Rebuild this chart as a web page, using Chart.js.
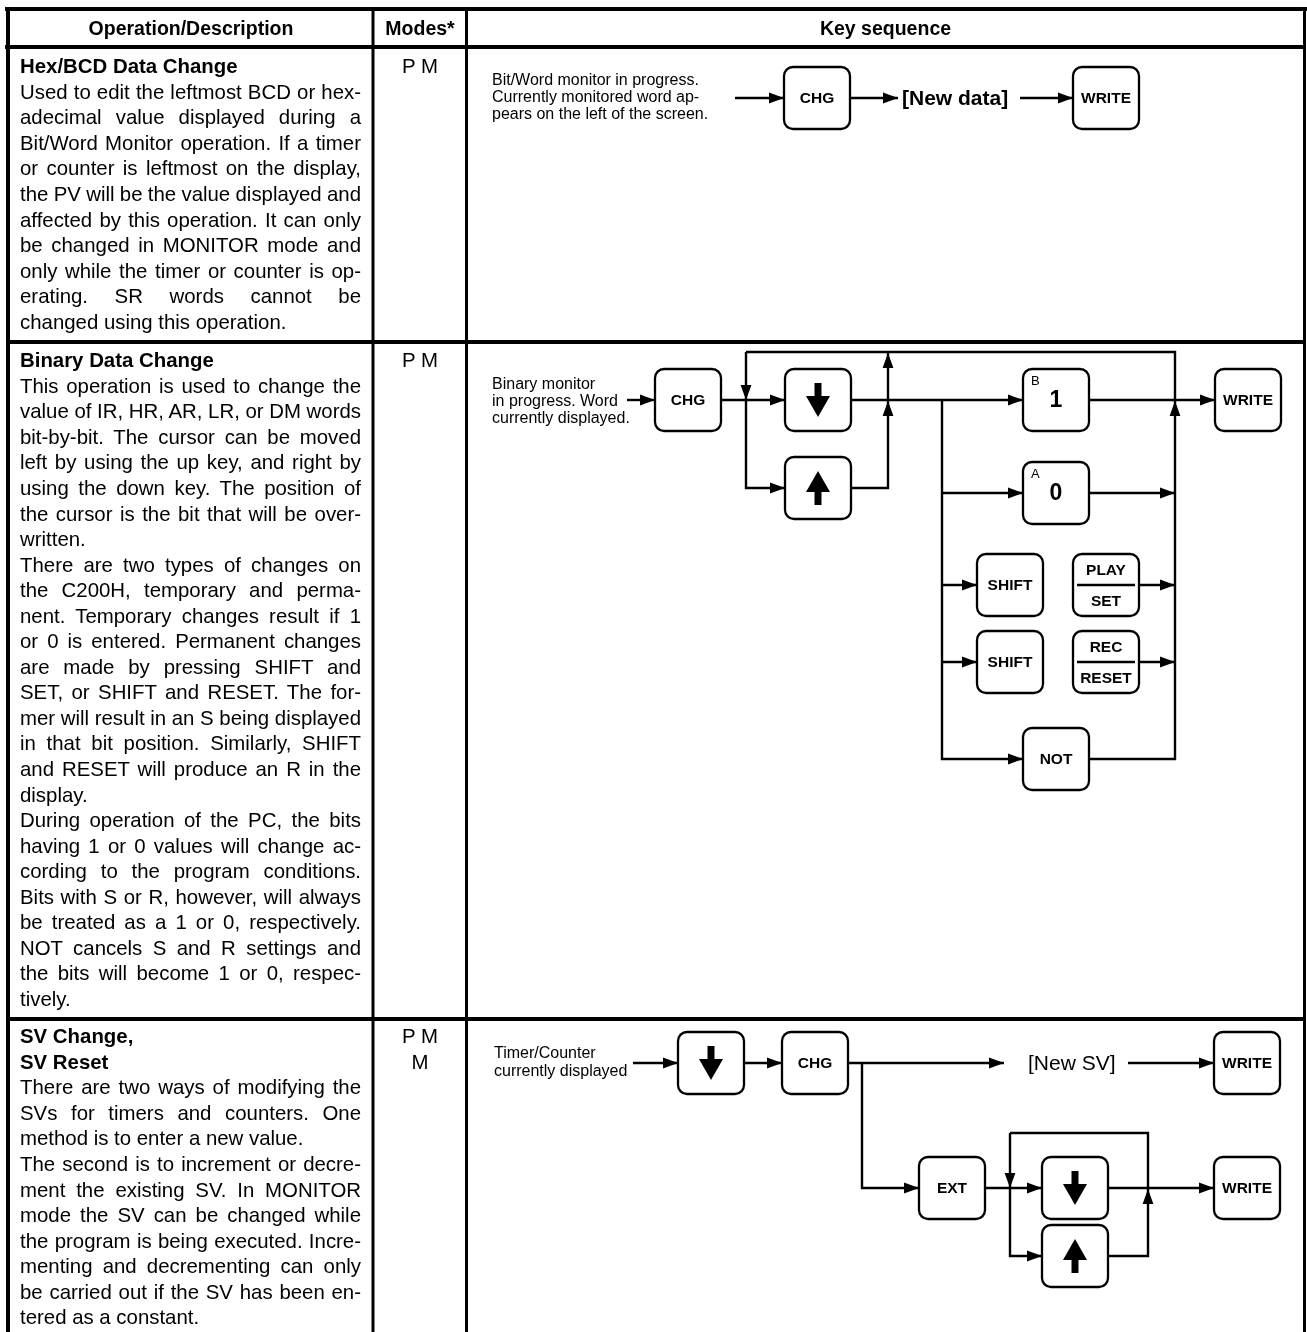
<!DOCTYPE html>
<html>
<head>
<meta charset="utf-8">
<script src="https://cdn.jsdelivr.net/npm/chart.js@4.4.0/dist/chart.umd.min.js"></script>
<style>
  html, body { margin: 0; padding: 0; background: #fff; }
  #page { position: relative; width: 1307px; height: 1332px; overflow: hidden; background: #fff; }
  #c { position: absolute; left: 0; top: 0; }
  .t { position: absolute; font-family: "Liberation Sans", Arial, Helvetica, sans-serif; color: #000; white-space: nowrap; }
  .ln { font-size: 20.4px; height: 25.55px; line-height: 25.55px; }
  .b { font-weight: bold; }
  .hd { font-weight: bold; font-size: 19.5px; text-align: center; height: 26px; line-height: 26px; }
  .md { text-align: center; }
</style>
</head>
<body>
<div id="page"><canvas id="c" width="1307" height="1332"></canvas></div>
<script>
// ---------------- DATA ----------------
const headers = ["Operation/Description", "Modes*", "Key sequence"];
const operations = [["Hex/BCD Data Change"], ["Binary Data Change"], ["SV Change,", "SV Reset"]];
const modes = [["P M"], ["P M"], ["P M", "M"]];
const descriptions = [
  [[
    "Used to edit the leftmost BCD or hex-",
    "adecimal value displayed during a",
    "Bit/Word Monitor operation. If a timer",
    "or counter is leftmost on the display,",
    "the PV will be the value displayed and",
    "affected by this operation. It can only",
    "be changed in MONITOR mode and",
    "only while the timer or counter is op-",
    "erating. SR words cannot be",
    "changed using this operation."
  ]],
  [[
    "This operation is used to change the",
    "value of IR, HR, AR, LR, or DM words",
    "bit-by-bit. The cursor can be moved",
    "left by using the up key, and right by",
    "using the down key. The position of",
    "the cursor is the bit that will be over-",
    "written."
  ], [
    "There are two types of changes on",
    "the C200H, temporary and perma-",
    "nent. Temporary changes result if 1",
    "or 0 is entered. Permanent changes",
    "are made by pressing SHIFT and",
    "SET, or SHIFT and RESET. The for-",
    "mer will result in an S being displayed",
    "in that bit position. Similarly, SHIFT",
    "and RESET will produce an R in the",
    "display."
  ], [
    "During operation of the PC, the bits",
    "having 1 or 0 values will change ac-",
    "cording to the program conditions.",
    "Bits with S or R, however, will always",
    "be treated as a 1 or 0, respectively.",
    "NOT cancels S and R settings and",
    "the bits will become 1 or 0, respec-",
    "tively."
  ]],
  [[
    "There are two ways of modifying the",
    "SVs for timers and counters. One",
    "method is to enter a new value."
  ], [
    "The second is to increment or decre-",
    "ment the existing SV. In MONITOR",
    "mode the SV can be changed while",
    "the program is being executed. Incre-",
    "menting and decrementing can only",
    "be carried out if the SV has been en-",
    "tered as a constant."
  ]]
];
const seqNotes = [
  ["Bit/Word monitor in progress.", "Currently monitored word ap-", "pears on the left of the screen."],
  ["Binary monitor", "in progress. Word", "currently displayed."],
  ["Timer/Counter", "currently displayed"]
];
const seqData = ["[New data]", "[New SV]"];
const keysRow1 = ["CHG", "WRITE"];
const keysRow2 = ["CHG", "DOWN", "UP", "1", "0", "SHIFT", "PLAY/SET", "SHIFT", "REC/RESET", "NOT", "WRITE"];
const keysRow3 = ["DOWN", "CHG", "WRITE", "EXT", "DOWN", "UP", "WRITE"];
const keySup = { "1": "B", "0": "A" };

// ---------------- LAYOUT ----------------
const W = 1307, H = 1332;
const L = {
  rowTitleY: [67, 361, 1037],
  lineH: 25.55,
  textX: 20, textW: 341,
  modesX: 374, modesW: 92,
  headerY: 28,
  headerCols: [[10, 372], [374, 466], [468, 1303]],
  rules: [ // [x0,y0,x1,y1] filled rectangles (table rules)
    [5, 7, 1307, 11], [5, 45, 1306, 49], [6, 340, 1306, 344], [6, 1017, 1306, 1021],
    [6, 7, 10, 1332], [1303, 7, 1306, 1332], [371.5, 7, 374.5, 1332], [465, 7, 468, 1332]
  ],
  keyW: 66, keyH: 62, keyR: 9,
  keyPos: [
    [[817, 98], [1106, 98]],
    [[688, 400], [818, 400], [818, 488], [1056, 400], [1056, 493], [1010, 585], [1106, 585], [1010, 662], [1106, 662], [1056, 759], [1248, 400]],
    [[711, 1063], [815, 1063], [1247, 1063], [952, 1188], [1075, 1188], [1075, 1256], [1247, 1188]]
  ],
  notePos: [[492, 81, 17], [492, 385, 17], [494, 1054, 18]],
  dataPos: [[902, 98, "bold"], [1028, 1063, "normal"]],
  wires: [
    // row 1
    [[735, 98], [784, 98]], [[850, 98], [898, 98]], [[1020, 98], [1073, 98]],
    // row 2
    [[627, 400], [655, 400]], [[721, 400], [785, 400]],
    [[746, 352], [746, 488], [785, 488]],
    [[851, 400], [1023, 400]],
    [[851, 488], [888, 488], [888, 352]],
    [[746, 352], [1175, 352], [1175, 759], [1089, 759]],
    [[942, 400], [942, 759], [1023, 759]],
    [[1089, 400], [1215, 400]],
    [[942, 493], [1023, 493]], [[1089, 493], [1175, 493]],
    [[942, 585], [977, 585]], [[1139, 585], [1175, 585]],
    [[942, 662], [977, 662]], [[1139, 662], [1175, 662]],
    // row 3
    [[633, 1063], [678, 1063]], [[744, 1063], [782, 1063]], [[848, 1063], [1004, 1063]],
    [[1128, 1063], [1214, 1063]],
    [[862, 1063], [862, 1188], [919, 1188]],
    [[985, 1188], [1042, 1188]],
    [[1010, 1133], [1010, 1256], [1042, 1256]],
    [[1010, 1133], [1148, 1133], [1148, 1256], [1108, 1256]],
    [[1108, 1188], [1214, 1188]]
  ],
  arrows: [ // tip x, tip y, direction
    [784, 98, "r"], [898, 98, "r"], [1073, 98, "r"],
    [655, 400, "r"], [785, 400, "r"], [746, 400, "d"], [785, 488, "r"],
    [888, 401, "u"], [888, 353, "u"], [1023, 400, "r"], [1215, 400, "r"], [1175, 401, "u"],
    [1023, 493, "r"], [1175, 493, "r"], [977, 585, "r"], [1175, 585, "r"],
    [977, 662, "r"], [1175, 662, "r"], [1023, 759, "r"],
    [678, 1063, "r"], [782, 1063, "r"], [1004, 1063, "r"], [1214, 1063, "r"],
    [919, 1188, "r"], [1042, 1188, "r"], [1010, 1188, "d"], [1042, 1256, "r"],
    [1148, 1189, "u"], [1214, 1188, "r"]
  ]
};

const FONT = '"Liberation Sans", Arial, Helvetica, sans-serif';

// ---------------- HTML TEXT ----------------
const page = document.getElementById("page");
function addDiv(cls, text, left, top, width) {
  const d = document.createElement("div");
  d.className = "t " + cls;
  d.textContent = text;
  d.style.left = left + "px";
  d.style.top = top + "px";
  if (width != null) d.style.width = width + "px";
  page.appendChild(d);
  return d;
}
function addJustified(text, left, top, width) {
  const d = addDiv("ln", text, left, top, null);
  const natural = d.getBoundingClientRect().width;
  const gaps = (text.match(/ /g) || []).length;
  if (gaps > 0) d.style.wordSpacing = ((width - natural) / gaps) + "px";
  d.style.width = width + "px";
  return d;
}
headers.forEach((h, i) => {
  const [a, b] = L.headerCols[i];
  addDiv("hd", h, a, L.headerY - 13, b - a);
});
operations.forEach((titles, r) => {
  let y = L.rowTitleY[r] - L.lineH / 2;
  titles.forEach(t => { addDiv("ln b", t, L.textX, y, L.textW); y += L.lineH; });
  descriptions[r].forEach(para => {
    para.forEach((line, k) => {
      const last = k === para.length - 1;
      if (last) addDiv("ln", line, L.textX, y, L.textW);
      else addJustified(line, L.textX, y, L.textW);
      y += L.lineH;
    });
  });
  let my = L.rowTitleY[r] - L.lineH / 2;
  modes[r].forEach(m => { addDiv("ln md", m, L.modesX, my, L.modesW); my += L.lineH; });
});

// ---------------- CHART.JS DIAGRAM ----------------
function roundRect(ctx, x, y, w, h, r) {
  ctx.beginPath();
  ctx.moveTo(x + r, y);
  ctx.lineTo(x + w - r, y);
  ctx.arcTo(x + w, y, x + w, y + r, r);
  ctx.lineTo(x + w, y + h - r);
  ctx.arcTo(x + w, y + h, x + w - r, y + h, r);
  ctx.lineTo(x + r, y + h);
  ctx.arcTo(x, y + h, x, y + h - r, r);
  ctx.lineTo(x, y + r);
  ctx.arcTo(x, y, x + r, y, r);
  ctx.closePath();
}

function drawKey(ctx, xs, ys, label, pos) {
  const cx = xs.getPixelForValue(pos[0]), cy = ys.getPixelForValue(pos[1]);
  const w = xs.getPixelForValue(pos[0] + L.keyW / 2) - cx;
  const h = ys.getPixelForValue(pos[1] + L.keyH / 2) - cy;
  ctx.save();
  ctx.fillStyle = "#fff";
  ctx.strokeStyle = "#000";
  ctx.lineWidth = 2.3;
  roundRect(ctx, cx - w, cy - h, 2 * w, 2 * h, L.keyR);
  ctx.fill();
  ctx.stroke();
  ctx.fillStyle = "#000";
  ctx.textAlign = "center";
  ctx.textBaseline = "middle";
  if (label === "DOWN" || label === "UP") {
    const s = label === "DOWN" ? 1 : -1;
    ctx.beginPath();
    ctx.rect(cx - 3.5, s > 0 ? cy - 17 : cy + 3, 7, 14);
    ctx.fill();
    ctx.beginPath();
    ctx.moveTo(cx - 12, cy - 4 * s);
    ctx.lineTo(cx + 12, cy - 4 * s);
    ctx.lineTo(cx, cy + 17 * s);
    ctx.closePath();
    ctx.fill();
  } else if (label.indexOf("/") > 0) {
    const [top, bottom] = label.split("/");
    ctx.font = "bold 15.5px " + FONT;
    ctx.fillText(top, cx, cy - 14);
    ctx.fillText(bottom, cx, cy + 17);
    ctx.lineWidth = 2.3;
    ctx.beginPath();
    ctx.moveTo(cx - w + 4, cy);
    ctx.lineTo(cx + w - 4, cy);
    ctx.stroke();
  } else if (keySup[label]) {
    ctx.font = "bold 23px " + FONT;
    ctx.fillText(label, cx, cy + 1);
    ctx.font = "13px " + FONT;
    ctx.textAlign = "left";
    ctx.textBaseline = "top";
    ctx.fillText(keySup[label], cx - w + 8, cy - h + 6);
  } else {
    ctx.font = "bold 15.5px " + FONT;
    ctx.fillText(label, cx, cy + 1);
  }
  ctx.restore();
}

function drawArrow(ctx, xs, ys, a) {
  const x = xs.getPixelForValue(a[0]), y = ys.getPixelForValue(a[1]);
  const len = 15, hw = 5.4;
  ctx.beginPath();
  ctx.moveTo(x, y);
  if (a[2] === "r") { ctx.lineTo(x - len, y - hw); ctx.lineTo(x - len, y + hw); }
  else if (a[2] === "d") { ctx.lineTo(x - hw, y - len); ctx.lineTo(x + hw, y - len); }
  else { ctx.lineTo(x - hw, y + len); ctx.lineTo(x + hw, y + len); }
  ctx.closePath();
  ctx.fill();
}

const diagramPlugin = {
  id: "diagram",
  beforeDatasetsDraw(chart) {
    const ctx = chart.ctx, xs = chart.scales.x, ys = chart.scales.y;
    ctx.save();
    ctx.fillStyle = "#000";
    L.rules.forEach(r => {
      const x0 = xs.getPixelForValue(r[0]), x1 = xs.getPixelForValue(r[2]);
      const y0 = ys.getPixelForValue(r[1]), y1 = ys.getPixelForValue(r[3]);
      ctx.fillRect(x0, y0, x1 - x0, y1 - y0);
    });
    ctx.restore();
  },
  afterDatasetsDraw(chart) {
    const ctx = chart.ctx, xs = chart.scales.x, ys = chart.scales.y;
    ctx.save();
    ctx.fillStyle = "#000";
    L.arrows.forEach(a => drawArrow(ctx, xs, ys, a));
    [keysRow1, keysRow2, keysRow3].forEach((row, r) => {
      row.forEach((k, i) => drawKey(ctx, xs, ys, k, L.keyPos[r][i]));
    });
    ctx.textAlign = "left";
    ctx.textBaseline = "middle";
    ctx.font = "16px " + FONT;
    seqNotes.forEach((lines, r) => {
      const [x, y, dy] = L.notePos[r];
      lines.forEach((t, i) => ctx.fillText(t, xs.getPixelForValue(x), ys.getPixelForValue(y + i * dy)));
    });
    seqData.forEach((t, i) => {
      const [x, y, wgt] = L.dataPos[i];
      ctx.font = (wgt === "bold" ? "bold " : "") + "21px " + FONT;
      ctx.fillText(t, xs.getPixelForValue(x), ys.getPixelForValue(y + 1));
    });
    ctx.restore();
  }
};

const datasets = L.wires.map(w => ({
  data: w.map(p => ({ x: p[0], y: p[1] })),
  showLine: true,
  borderColor: "#000",
  borderWidth: 2.4,
  pointRadius: 0,
  pointHoverRadius: 0,
  fill: false,
  tension: 0,
  borderJoinStyle: "miter",
  borderCapStyle: "butt"
}));

new Chart(document.getElementById("c"), {
  type: "scatter",
  data: { datasets },
  options: {
    responsive: false,
    animation: false,
    events: [],
    layout: { padding: 0 },
    plugins: { legend: { display: false }, tooltip: { enabled: false } },
    scales: {
      x: { type: "linear", min: 0, max: W, display: false },
      y: { type: "linear", min: 0, max: H, reverse: true, display: false }
    }
  },
  plugins: [diagramPlugin]
});
</script>
</body>
</html>
